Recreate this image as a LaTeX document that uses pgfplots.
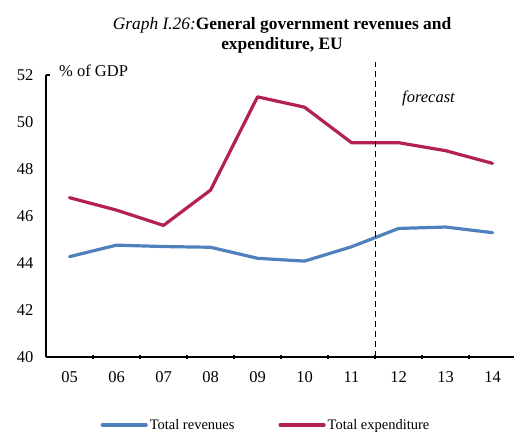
\documentclass[border=0pt]{standalone}
\usepackage{fontspec}
\setmainfont{Liberation Serif}
\usepackage{pgfplots}
\pgfplotsset{compat=1.18}
\definecolor{revblue}{RGB}{79,129,189}
\definecolor{expred}{RGB}{178,33,82}
\newcommand{\tickfont}{\fontsize{16.5bp}{19bp}\selectfont}
\newcommand{\titlefont}{\fontsize{17.4bp}{20bp}\selectfont}
\newcommand{\legfont}{\fontsize{14.5bp}{16bp}\selectfont}
\begin{document}
\begin{tikzpicture}
\useasboundingbox (-46bp,-75bp) rectangle (468bp,357bp);
\begin{axis}[
  scale only axis, width=468bp, height=282bp,
  xmin=-0.5, xmax=9.457, ymin=40, ymax=52,
  axis x line=bottom, axis y line=left,
  axis line style={-, line width=1.1bp},
  clip=false,
  xtick={0,...,9},
  xticklabels={05,06,07,08,09,10,11,12,13,14},
  minor xtick={0.5,1.5,...,8.5},
  minor tick length=4bp,
  major x tick style={draw=none},
  minor x tick style={line width=1.1bp, black},
  ytick={40,42,...,52},
  y tick style={draw=none},
  tick label style={font=\tickfont},
  /pgf/number format/assume math mode=true,
  xticklabel style={yshift=-9bp},
  yticklabel style={xshift=-7bp},
  legend style={at={(axis description cs:0.47,-0.241)}, anchor=center,
    draw=none, fill=none, font=\legfont, legend columns=2,
    /tikz/every even column/.append style={column sep=42bp}},
  legend image code/.code={\draw[#1, line cap=round] (0bp,0bp) -- (44bp,0bp);},
]
\addplot[revblue, line width=3.2bp, line join=round, line cap=round] coordinates {
  (0,44.27) (1,44.76) (2,44.70) (3,44.67) (4,44.20)
  (5,44.08) (6,44.69) (7,45.47) (8,45.53) (9,45.29)};
\addlegendentry{Total revenues}
\addplot[expred, line width=3.2bp, line join=round, line cap=round] coordinates {
  (0,46.78) (1,46.25) (2,45.60) (3,47.10) (4,51.07)
  (5,50.63) (6,49.12) (7,49.12) (8,48.78) (9,48.24)};
\addlegendentry{Total expenditure}
\addplot[black, line width=0.9bp, dash pattern=on 6bp off 4bp, forget plot] coordinates {(6.5,40) (6.5,52.55)};
\draw[line width=1.1bp] (axis cs:-0.5,52) -- (axis cs:-0.415,52);
\end{axis}
\node[anchor=base, font=\titlefont] at (236bp,327bp) {\textit{Graph I.26:}\textbf{General government revenues and}};
\node[anchor=base, font=\titlefont] at (236bp,307bp) {\textbf{expenditure, EU}};
\node[anchor=base west, inner sep=0pt, font=\tickfont] at (13bp,280bp) {\% of GDP};
\node[anchor=base west, inner sep=0pt, font=\tickfont] at (356bp,254bp) {\textit{forecast}};
\end{tikzpicture}
\end{document}
